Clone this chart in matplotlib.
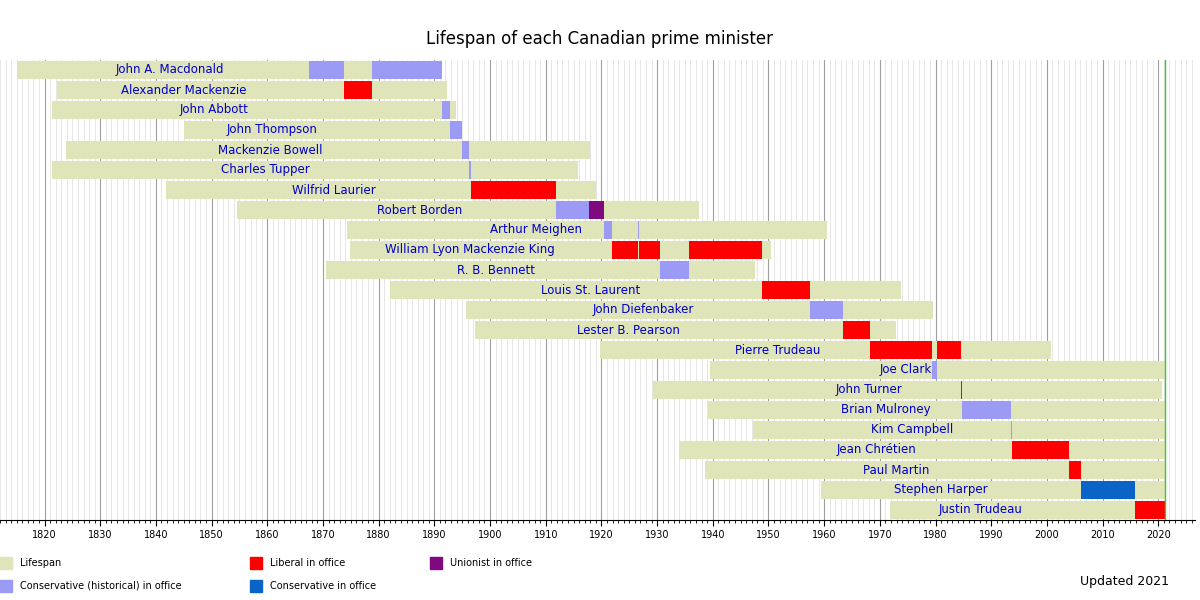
import matplotlib.pyplot as plt
import matplotlib.patches as mpatches

names = ["John A. Macdonald", "Alexander Mackenzie", "John Abbott", "John Thompson",
         "Mackenzie Bowell", "Charles Tupper", "Wilfrid Laurier", "Robert Borden",
         "Arthur Meighen", "William Lyon Mackenzie King", "R. B. Bennett", "Louis St. Laurent",
         "John Diefenbaker", "Lester B. Pearson", "Pierre Trudeau", "Joe Clark", "John Turner",
         "Brian Mulroney", "Kim Campbell", "Jean Chrétien", "Paul Martin", "Stephen Harper",
         "Justin Trudeau"]
born = [1815.0, 1822.2, 1821.3, 1845.0, 1823.8, 1821.4, 1841.9, 1854.6, 1874.3, 1874.9,
        1870.6, 1882.1, 1895.7, 1897.3, 1919.8, 1939.5, 1929.3, 1939.2, 1947.2, 1934.0,
        1938.6, 1959.5, 1971.9]
died = [1891.4, 1892.3, 1893.8, 1894.9, 1917.9, 1915.8, 1919.1, 1937.5, 1960.6, 1950.5,
        1947.5, 1973.8, 1979.6, 1972.9, 2000.7, 2021.2, 2020.7, 2021.2, 2021.2, 2021.2,
        2021.2, 2021.2, 2021.2]
# (row, start, end, party)
terms = [(0, 1867.5, 1873.8, "ch"), (0, 1878.8, 1891.4, "ch"),
         (1, 1873.8, 1878.8, "lib"),
         (2, 1891.4, 1892.9, "ch"),
         (3, 1892.9, 1894.9, "ch"),
         (4, 1894.9, 1896.3, "ch"),
         (5, 1896.3, 1896.5, "ch"),
         (6, 1896.5, 1911.8, "lib"),
         (7, 1911.8, 1917.8, "ch"), (7, 1917.8, 1920.5, "uni"),
         (8, 1920.5, 1921.9, "ch"), (8, 1926.5, 1926.7, "ch"),
         (9, 1921.9, 1926.5, "lib"), (9, 1926.7, 1930.6, "lib"), (9, 1935.8, 1948.9, "lib"),
         (10, 1930.6, 1935.8, "ch"),
         (11, 1948.9, 1957.5, "lib"),
         (12, 1957.5, 1963.3, "ch"),
         (13, 1963.3, 1968.3, "lib"),
         (14, 1968.3, 1979.4, "lib"), (14, 1980.2, 1984.5, "lib"),
         (15, 1979.4, 1980.2, "ch"),
         (16, 1984.5, 1984.7, "lib"),
         (17, 1984.7, 1993.5, "ch"),
         (18, 1993.5, 1993.8, "ch"),
         (19, 1993.8, 2003.9, "lib"),
         (20, 2003.9, 2006.1, "lib"),
         (21, 2006.1, 2015.8, "con"),
         (22, 2015.8, 2021.2, "lib")]

colors = {"life": "#dfe5b8", "ch": "#9b9bf5", "lib": "#ff0000", "uni": "#7f0a7f", "con": "#0a64c8"}

fig = plt.figure(figsize=(12, 6), dpi=100)
ax = fig.add_axes([0, 80 / 600, 1195 / 1200, 460 / 600])
ax.set_xlim(1812.3, 2026.6)
ax.set_ylim(23, 0)

for yr in range(1812, 2027):
    ax.axvline(yr, color="#e2e2e2" if yr % 10 else "#a0a0a0", lw=0.6 if yr % 10 else 0.8, zorder=0)

for i, n in enumerate(names):
    ax.barh(i + 0.5, died[i] - born[i], left=born[i], height=0.9, color=colors["life"], zorder=1)
    ax.text((born[i] + died[i]) / 2 - 1, i + 0.5, n, ha="right", va="center",
            color="#0000cc", fontsize=8.5, zorder=3)
for r, s, e, p in terms:
    ax.barh(r + 0.5, e - s, left=s, height=0.9, color=colors[p], zorder=2)

ax.axvline(2021.2, color="#33cc33", lw=1, zorder=4)

for s in ["top", "left", "right"]:
    ax.spines[s].set_visible(False)
ax.set_yticks([])
ax.set_xticks(range(1820, 2021, 10))
ax.set_xticks(range(1812, 2027), minor=True)
ax.tick_params(axis="x", labelsize=7, length=4, direction="out")
ax.tick_params(axis="x", which="minor", length=2)

fig.suptitle("Lifespan of each Canadian prime minister", y=0.95, fontsize=12)

legend = [(0, 563, "life", "Lifespan"), (0, 586, "ch", "Conservative (historical) in office"),
          (250, 563, "lib", "Liberal in office"), (250, 586, "con", "Conservative in office"),
          (430, 563, "uni", "Unionist in office")]
for x, y, k, t in legend:
    fig.patches.append(mpatches.Rectangle((x / 1200, 1 - (y + 6) / 600), 12 / 1200, 12 / 600,
                                          color=colors[k], transform=fig.transFigure))
    fig.text((x + 20) / 1200, 1 - y / 600, t, fontsize=7, va="center")
fig.text(1080 / 1200, 1 - 581 / 600, "Updated 2021", fontsize=9, va="center")

fig.savefig("out.png")
